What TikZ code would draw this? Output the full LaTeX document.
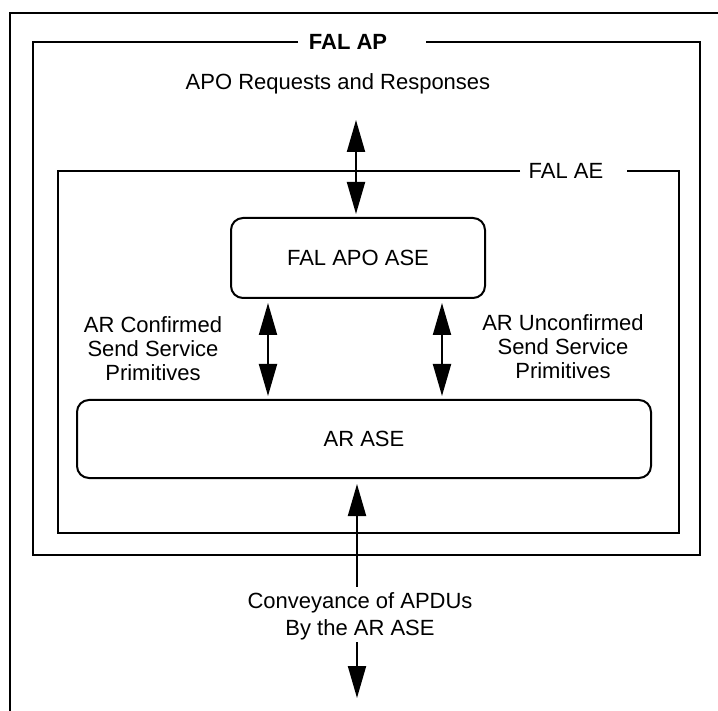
\documentclass[tikz,border=0pt]{standalone}
\usepackage{fontspec}
\setmainfont{Liberation Sans}
\usetikzlibrary{arrows.meta}
\begin{document}
\begin{tikzpicture}[x=1pt,y=-1pt,
  frame/.style={line width=2pt},
  box/.style={draw,line width=2pt,rounded corners=12pt,inner sep=0pt},
  lbl/.style={font=\fontsize{22}{24}\selectfont,align=center,inner sep=0pt},
  tip/.tip={Triangle[length=32pt,width=18pt]},
  dbl/.style={line width=2pt,tip-tip},
  uparr/.style={line width=2pt,tip-},
  downarr/.style={line width=2pt,-tip}]
\useasboundingbox (0,0) rectangle (718,711);
% outer frame
\draw[frame] (10,712) -- (10,13) -- (719,13);
% FAL AP
\node[lbl,font=\fontsize{22}{24}\selectfont\bfseries] (falap) at (348,42) {FAL AP};
\draw[frame] (298,42) -- (33,42) -- (33,555) -- (700,555) -- (700,42) -- (426,42);
\node[lbl] (aporeq) at (338,84) {APO Requests and Responses};
% FAL AE
\node[lbl] (falae) at (566,171) {FAL AE};
\draw[frame] (520,171) -- (58,171) -- (58,533) -- (679,533) -- (679,171) -- (627,171);
% boxes
\node[box,lbl,minimum width=254pt,minimum height=80pt] (apo) at (358,258) {FAL APO ASE};
\node[box,lbl,minimum width=574pt,minimum height=78pt] (arase) at (364,439) {AR ASE};
% top arrow
\coordinate (top) at (356,120);
\draw[dbl,shorten >=3pt] (top) -- (apo.north -| top);
% side arrows
\coordinate (lx) at (268,0);
\coordinate (rx) at (442,0);
\draw[dbl,shorten <=4pt,shorten >=3pt] (apo.south -| lx) -- (arase.north -| lx);
\draw[dbl,shorten <=4pt,shorten >=3pt] (apo.south -| rx) -- (arase.north -| rx);
\node[lbl] (conf) at (153,349) {AR Confirmed\\Send Service\\Primitives};
\node[lbl] (unconf) at (563,347) {AR Unconfirmed\\Send Service\\Primitives};
% bottom arrow
\coordinate (c1) at (357,587);
\coordinate (c2) at (357,642);
\coordinate (c3) at (357,698);
\node[lbl,font=\fontsize{22}{27}\selectfont] (conv) at (360,616) {Conveyance of APDUs\\By the AR ASE};
\draw[uparr,shorten <=5pt] (arase.south -| c1) -- (c1);
\draw[downarr] (c2) -- (c3);
\end{tikzpicture}
\end{document}
